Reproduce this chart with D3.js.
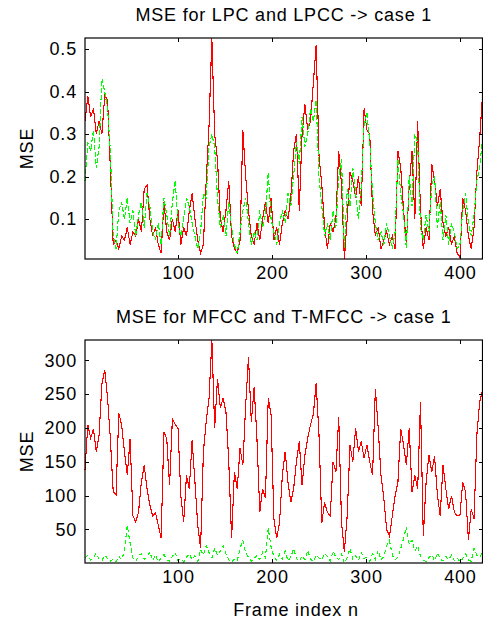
<!DOCTYPE html>
<html>
<head>
<meta charset="utf-8">
<script src="https://cdn.jsdelivr.net/npm/d3@7/dist/d3.min.js"></script>
<style>
body { margin: 0; background: #fff; }
text { font-family: "Liberation Sans", Arial, sans-serif; font-size: 18px; letter-spacing: 0.8px; fill: #000; }
</style>
</head>
<body>
<div id="chart"></div>
<script>
// values, one every 3 frames (1, 4, 7 ... 424)
var frameStep = 3;

var lpcMse = [
	0.33,0.39,0.34,0.36,0.30,0.33,0.30,0.39,0.38,0.22,
	0.04,0.05,0.03,0.06,0.05,0.08,0.04,0.07,0.06,0.10,
	0.07,0.17,0.18,0.10,0.06,0.08,0.04,0.02,0.14,0.07,
	0.05,0.10,0.07,0.12,0.04,0.08,0.06,0.12,0.16,0.10,
	0.05,0.02,0.04,0.19,0.32,0.526,0.30,0.24,0.10,0.07,
	0.12,0.19,0.06,0.03,0.02,0.05,0.31,0.20,0.12,0.06,
	0.04,0.09,0.05,0.10,0.14,0.09,0.15,0.05,0.08,0.04,
	0.09,0.12,0.10,0.15,0.26,0.30,0.12,0.30,0.37,0.31,
	0.33,0.42,0.51,0.25,0.18,0.08,0.03,0.09,0.07,0.10,
	0.26,0.18,0.006,0.10,0.21,0.19,0.15,0.20,0.13,0.36,
	0.31,0.30,0.12,0.06,0.08,0.03,0.05,0.07,0.04,0.06,
	0.03,0.26,0.22,0.12,0.04,0.18,0.26,0.10,0.33,0.12,
	0.03,0.08,0.05,0.23,0.19,0.13,0.17,0.09,0.06,0.08,
	0.04,0.06,0.02,0.01,0.15,0.12,0.06,0.03,0.08,0.21,
	0.29,0.39
];

var lpccMse = [
	0.19,0.28,0.26,0.31,0.22,0.27,0.43,0.40,0.36,0.26,
	0.06,0.03,0.12,0.14,0.10,0.15,0.09,0.12,0.06,0.11,
	0.14,0.08,0.16,0.13,0.07,0.05,0.09,0.04,0.15,0.11,
	0.06,0.14,0.19,0.09,0.06,0.10,0.15,0.13,0.09,0.06,
	0.03,0.07,0.16,0.15,0.27,0.30,0.27,0.15,0.08,0.11,
	0.06,0.14,0.08,0.04,0.02,0.07,0.12,0.15,0.09,0.04,
	0.07,0.05,0.12,0.08,0.11,0.21,0.10,0.07,0.04,0.09,
	0.12,0.09,0.16,0.13,0.20,0.28,0.23,0.34,0.27,0.30,
	0.36,0.33,0.38,0.20,0.13,0.06,0.09,0.05,0.12,0.08,
	0.20,0.24,0.03,0.17,0.13,0.22,0.16,0.10,0.18,0.32,
	0.35,0.28,0.16,0.09,0.05,0.07,0.04,0.09,0.06,0.03,
	0.07,0.24,0.16,0.11,0.03,0.20,0.13,0.30,0.28,0.08,
	0.05,0.11,0.07,0.18,0.20,0.08,0.14,0.05,0.11,0.04,
	0.09,0.07,0.03,0.04,0.12,0.16,0.09,0.06,0.11,0.19,
	0.22,0.29
];

var mfccMse = [
	138,205,185,198,165,190,265,286,244,184,
	106,101,222,204,165,130,184,70,61,76,
	120,145,110,86,70,75,56,37,194,184,
	115,214,205,199,100,61,130,110,182,120,
	56,22,165,210,244,330,200,273,230,244,
	224,150,37,135,110,170,145,234,305,209,
	260,184,76,110,96,244,219,66,37,60,
	130,165,120,90,110,150,180,115,160,185,
	205,220,266,190,60,90,75,70,150,135,
	216,60,17,70,175,150,200,165,180,155,
	175,150,130,258,200,130,96,50,40,70,
	100,120,199,175,145,200,105,130,110,239,
	40,120,160,135,158,101,70,145,110,80,
	100,76,70,71,120,105,35,80,66,190,
	239,255
];

var tmfccMse = [
	8,12,5,9,15,6,4,12,7,3,
	6,2,10,5,18,56,30,8,3,11,
	14,6,9,17,4,12,2,8,13,5,
	3,10,16,4,7,2,9,14,5,11,
	3,20,12,26,16,8,22,12,18,26,
	14,5,2,6,3,22,34,15,9,3,
	7,12,5,16,8,52,24,10,4,13,
	6,18,4,9,22,7,3,11,5,19,
	6,2,12,8,5,15,10,3,18,9,
	5,14,0.4,8,22,6,11,4,16,7,
	9,3,14,6,19,5,10,26,34,12,
	5,9,22,36,54,28,34,18,26,10,
	4,3,8,13,4,15,7,3,10,5,
	12,4,8,2,7,14,5,3,22,12,
	9,16
];

var lpcTicks = [0.1, 0.2, 0.3, 0.4, 0.5];
var mfccTicks = [50, 100, 150, 200, 250, 300];
var frameTicks = [100, 200, 300, 400];

var frames = d3.range(lpcMse.length).map(function(i) { return 1 + i * frameStep; });

var width = 483, height = 625;
var left = 85, right = 482.5;
var tickLen = 4;

var svg = d3.select('#chart').append('svg')
	.attr('width', width)
	.attr('height', height);

svg.append('rect').attr('width', width).attr('height', height).attr('fill', '#fff');

var x = d3.scaleLinear().domain(d3.extent(frames)).range([left, right]);

function drawPanel(top, bottom, title, redData, greenData, yTicks, yFormat, greenDash) {
	var y = d3.scaleLinear()
		.domain(d3.extent(redData.concat(greenData)))
		.range([bottom, top]);

	var g = svg.append('g');

	var line = function(data) {
		return d3.line()
			.x(function(d, i) { return x(frames[i]); })
			.y(function(d) { return y(d); })(data);
	};

	g.append('path')
		.attr('d', line(redData))
		.attr('fill', 'none')
		.attr('stroke', '#ff0000')
		.attr('stroke-width', 1.1)
		.attr('shape-rendering', 'crispEdges');

	g.append('path')
		.attr('d', line(greenData))
		.attr('fill', 'none')
		.attr('stroke', '#00ff00')
		.attr('stroke-width', 1.1)
		.attr('stroke-dasharray', greenDash)
		.attr('shape-rendering', 'crispEdges');

	// axes, ticks pointing inwards like matlab
	var xb = g.append('g').attr('transform', 'translate(0,' + bottom + ')')
		.call(d3.axisBottom(x).tickValues(frameTicks).tickSize(-tickLen).tickPadding(7));
	var xt = g.append('g').attr('transform', 'translate(0,' + top + ')')
		.call(d3.axisTop(x).tickValues(frameTicks).tickSize(-tickLen).tickFormat(''));
	var yl = g.append('g').attr('transform', 'translate(' + left + ',0)')
		.call(d3.axisLeft(y).tickValues(yTicks).tickSize(-tickLen).tickPadding(8).tickFormat(yFormat));
	var yr = g.append('g').attr('transform', 'translate(' + right + ',0)')
		.call(d3.axisRight(y).tickValues(yTicks).tickSize(-tickLen).tickFormat(''));

	[xb, xt, yl, yr].forEach(function(a) {
		a.select('.domain').remove();
		a.selectAll('.tick line').attr('stroke', '#000').attr('shape-rendering', 'crispEdges');
		a.selectAll('text').attr('font-size', null).attr('font-family', null);
	});

	g.append('rect')
		.attr('x', left).attr('y', top)
		.attr('width', right - left).attr('height', bottom - top)
		.attr('fill', 'none')
		.attr('stroke', '#000')
		.attr('stroke-width', 1.2);

	g.append('text')
		.attr('x', (left + right) / 2)
		.attr('y', top - 17)
		.attr('text-anchor', 'middle')
		.text(title);

	g.append('text')
		.attr('transform', 'translate(33,' + (top + bottom) / 2 + ') rotate(-90)')
		.attr('text-anchor', 'middle')
		.text('MSE');
}

drawPanel(38, 259, 'MSE for LPC and LPCC -> case 1', lpcMse, lpccMse, lpcTicks, d3.format('.1f'), '5,2');
drawPanel(340, 563, 'MSE for MFCC and T-MFCC -> case 1', mfccMse, tmfccMse, mfccTicks, d3.format('d'), '4,3');

svg.append('text')
	.attr('x', 296)
	.attr('y', 616)
	.attr('text-anchor', 'middle')
	.text('Frame index n');
</script>
</body>
</html>
